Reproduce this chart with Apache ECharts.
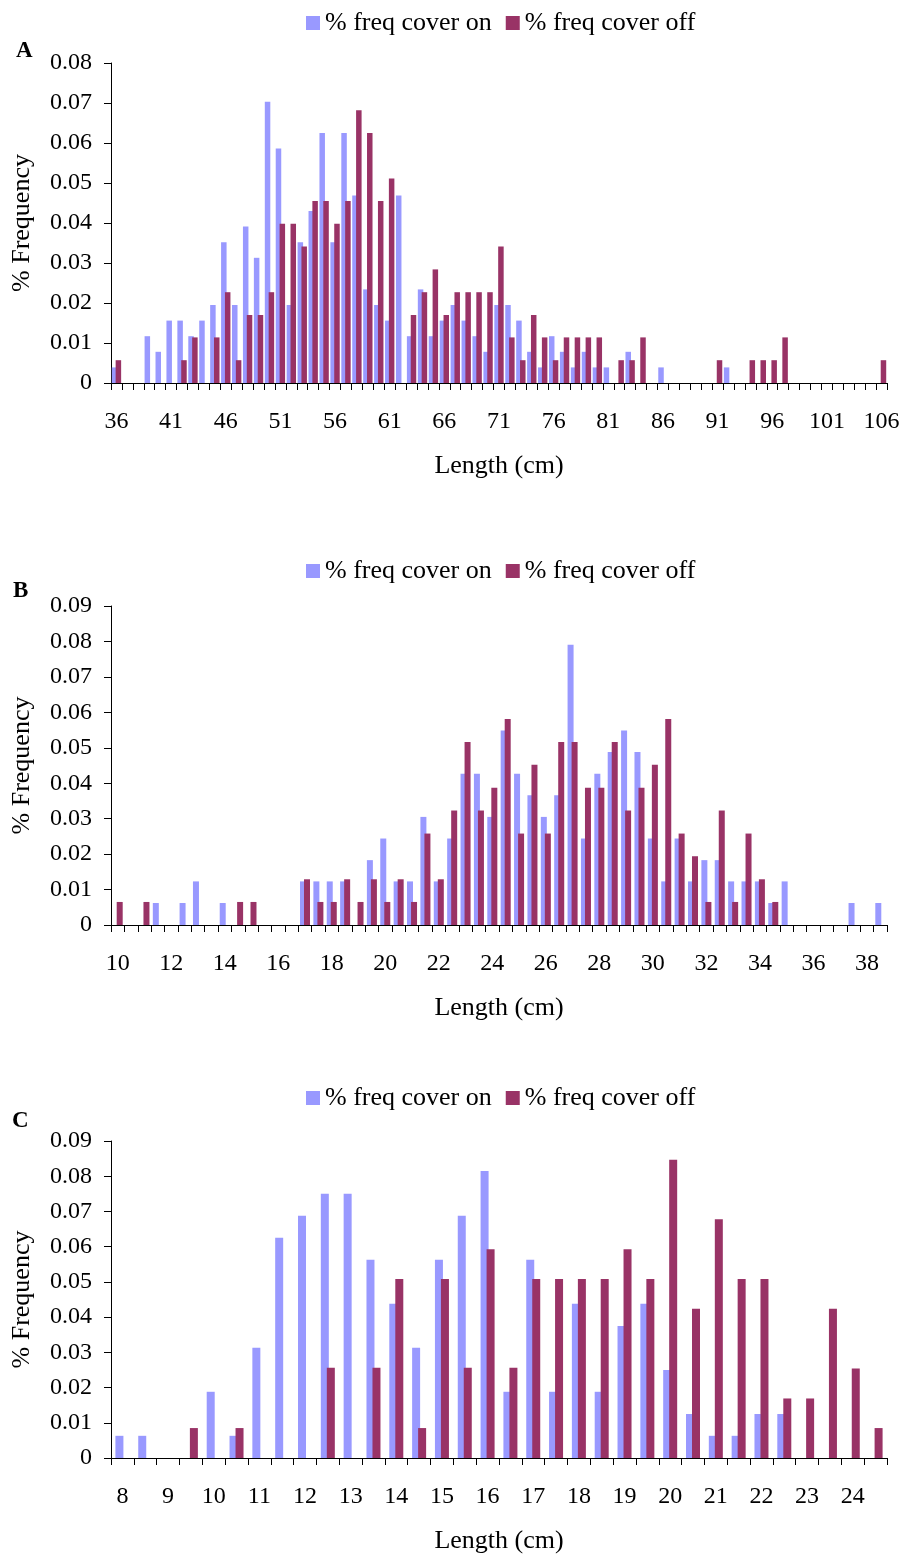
<!DOCTYPE html>
<html>
<head>
<meta charset="utf-8">
<title>Length frequency</title>
<script src="https://cdn.jsdelivr.net/npm/echarts@6/dist/echarts.min.js"></script>
<style>
  html, body { margin: 0; padding: 0; background: #fff; }
  #chart { width: 904px; height: 1559px; }
</style>
</head>
<body>
<div id="chart"></div>
<script>
// panel A : 36..106 cm, 1 cm classes
const lengthsA = ['36','37','38','39','40','41','42','43','44','45',
  '46','47','48','49','50','51','52','53','54','55',
  '56','57','58','59','60','61','62','63','64','65',
  '66','67','68','69','70','71','72','73','74','75',
  '76','77','78','79','80','81','82','83','84','85',
  '86','87','88','89','90','91','92','93','94','95',
  '96','97','98','99','100','101','102','103','104','105','106'];
const coverOnA = [0.0039,0,0,0.0117,0.0078,0.0156,0.0156,0.0117,0.0156,0.0195,
  0.0352,0.0195,0.0391,0.0313,0.0703,0.0586,0.0195,0.0352,0.043,0.0625,
  0.0352,0.0625,0.0469,0.0234,0.0195,0.0156,0.0469,0.0117,0.0234,0.0117,
  0.0156,0.0195,0.0156,0.0117,0.0078,0.0195,0.0195,0.0156,0.0078,0.0039,
  0.0117,0.0078,0.0039,0.0078,0.0039,0.0039,0,0.0078,0,0,
  0.0039,0,0,0,0,0,0.0039,0,0,0,
  0,0,0,0,0,0,0,0,0,0,0];
const coverOffA = [0.0057,0,0,0,0,0,0.0057,0.0114,0,0.0114,
  0.0227,0.0057,0.017,0.017,0.0227,0.0398,0.0398,0.0341,0.0455,0.0455,
  0.0398,0.0455,0.0682,0.0625,0.0455,0.0511,0,0.017,0.0227,0.0284,
  0.017,0.0227,0.0227,0.0227,0.0227,0.0341,0.0114,0.0057,0.017,0.0114,
  0.0057,0.0114,0.0114,0.0114,0.0114,0,0.0057,0.0057,0.0114,0,
  0,0,0,0,0,0.0057,0,0,0.0057,0.0057,
  0.0057,0.0114,0,0,0,0,0,0,0,0,0.0057];

// panel B : 10..38.5 cm, 0.5 cm classes
const lengthsB = ['10','10.5','11','11.5','12','12.5','13','13.5','14','14.5',
  '15','15.5','16','16.5','17','17.5','18','18.5','19','19.5',
  '20','20.5','21','21.5','22','22.5','23','23.5','24','24.5',
  '25','25.5','26','26.5','27','27.5','28','28.5','29','29.5',
  '30','30.5','31','31.5','32','32.5','33','33.5','34','34.5',
  '35','35.5','36','36.5','37','37.5','38','38.5'];
const coverOnB = [0,0,0,0.0062,0,0.0062,0.0123,0,0.0062,0,
  0,0,0,0,0.0123,0.0123,0.0123,0.0123,0,0.0183,
  0.0244,0.0123,0.0123,0.0305,0.0123,0.0244,0.0427,0.0427,0.0305,0.0549,
  0.0427,0.0366,0.0305,0.0366,0.0791,0.0244,0.0427,0.0488,0.0549,0.0488,
  0.0244,0.0123,0.0244,0.0123,0.0183,0.0183,0.0123,0.0123,0.0123,0.0062,
  0.0123,0,0,0,0,0.0062,0,0.0062];
const coverOffB = [0.0065,0,0.0065,0,0,0,0,0,0,0.0065,
  0.0065,0,0,0,0.0129,0.0065,0.0065,0.0129,0.0065,0.0129,
  0.0065,0.0129,0.0065,0.0258,0.0129,0.0323,0.0516,0.0323,0.0387,0.0581,
  0.0258,0.0452,0.0258,0.0516,0.0516,0.0387,0.0387,0.0516,0.0323,0.0387,
  0.0452,0.0581,0.0258,0.0194,0.0065,0.0323,0.0065,0.0258,0.0129,0.0065,
  0,0,0,0,0,0,0,0];

// panel C : 8..24.5 cm, 0.5 cm classes
const lengthsC = ['8','8.5','9','9.5','10','10.5','11','11.5','12','12.5',
  '13','13.5','14','14.5','15','15.5','16','16.5','17','17.5',
  '18','18.5','19','19.5','20','20.5','21','21.5','22','22.5',
  '23','23.5','24','24.5'];
const coverOnC = [0.0063,0.0063,0,0,0.0188,0.0063,0.0313,0.0625,0.0688,0.075,
  0.075,0.0563,0.0438,0.0313,0.0563,0.0688,0.0815,0.0188,0.0563,0.0188,
  0.0438,0.0188,0.0375,0.0438,0.025,0.0125,0.0063,0.0063,0.0125,0.0125,
  0,0,0,0];
const coverOffC = [0,0,0,0.0085,0,0.0085,0,0,0,0.0256,
  0,0.0256,0.0508,0.0085,0.0508,0.0256,0.0593,0.0256,0.0508,0.0508,
  0.0508,0.0508,0.0593,0.0508,0.0847,0.0424,0.0678,0.0508,0.0508,0.0169,
  0.0169,0.0424,0.0254,0.0085];

const nameOn = '% freq cover on';
const nameOff = '% freq cover off';
const colOn = '#9999FF';
const colOff = '#993366';
const FONT = 'Liberation Serif';

// grids: top / height of each plot area
const panels = [
  { cats: lengthsA, on: coverOnA, off: coverOffA, top: 63, height: 320, max: 0.08, every: 4, bw: 5.5, gap: '-30%', legendTop: 5, tag: 'A', tagX: 16, tagY: 40 },
  { cats: lengthsB, on: coverOnB, off: coverOffB, top: 606, height: 319, max: 0.09, every: 3, bw: 6, gap: '-33%', legendTop: 553, tag: 'B', tagX: 13, tagY: 580 },
  { cats: lengthsC, on: coverOnC, off: coverOffC, top: 1141, height: 317, max: 0.09, every: 1, bw: 8, gap: '-25%', legendTop: 1080, tag: 'C', tagX: 12, tagY: 1110 }
];

let txt = { fontFamily: FONT, fontSize: 26, color: '#000' };
let tickTxt = { fontFamily: FONT, fontSize: 24, color: '#000' };

let option = {
  animation: false,
  backgroundColor: '#fff',
  textStyle: { fontFamily: FONT },
  grid: [], xAxis: [], yAxis: [], series: [], legend: [], graphic: []
};

panels.forEach(function(p, i) {
  option.grid.push({ left: 111, right: 17, top: p.top, height: p.height });
  option.xAxis.push({
    type: 'category', gridIndex: i, data: p.cats,
    boundaryGap: true,
    name: 'Length (cm)', nameLocation: 'middle', nameGap: 70,
    nameTextStyle: txt,
    axisLine: { lineStyle: { color: '#000', width: 1 } },
    axisTick: { show: true, interval: 0, alignWithLabel: false, length: 7, lineStyle: { color: '#000' } },
    axisLabel: Object.assign({ interval: p.every, margin: 27, hideOverlap: false }, tickTxt),
    splitLine: { show: false }
  });
  option.yAxis.push({
    type: 'value', gridIndex: i, min: 0, max: p.max, interval: 0.01,
    name: '% Frequency', nameLocation: 'middle', nameGap: 76,
    nameTextStyle: txt,
    axisLine: { show: true, lineStyle: { color: '#000', width: 1 } },
    axisTick: { show: true, length: 7, lineStyle: { color: '#000' } },
    axisLabel: Object.assign({
      margin: 19,
      formatter: function(v) { return v === 0 ? '0' : v.toFixed(2); }
    }, tickTxt),
    splitLine: { show: false }
  });
  option.series.push({
    name: nameOn, type: 'bar', xAxisIndex: i, yAxisIndex: i,
    data: p.on, barWidth: p.bw, barGap: p.gap,
    itemStyle: { color: colOn }
  });
  option.series.push({
    name: nameOff, type: 'bar', xAxisIndex: i, yAxisIndex: i,
    data: p.off, barWidth: p.bw, barGap: p.gap,
    itemStyle: { color: colOff }
  });
  // legend sits over the plot centre, not the page centre
  option.legend.push({
    top: p.legendTop, left: 301,
    data: [nameOn, nameOff],
    icon: 'rect', itemWidth: 14, itemHeight: 14, itemGap: 14,
    textStyle: txt
  });
  option.graphic.push({
    type: 'text', left: p.tagX, top: p.tagY,
    style: { text: p.tag, font: 'bold 23px "Liberation Serif"', fill: '#000' }
  });
});

let setChart = function(ele, options) {
  let myChart = echarts.init(ele);
  myChart.setOption(options);
  return myChart;
};

setChart(document.getElementById('chart'), option);
</script>
</body>
</html>
